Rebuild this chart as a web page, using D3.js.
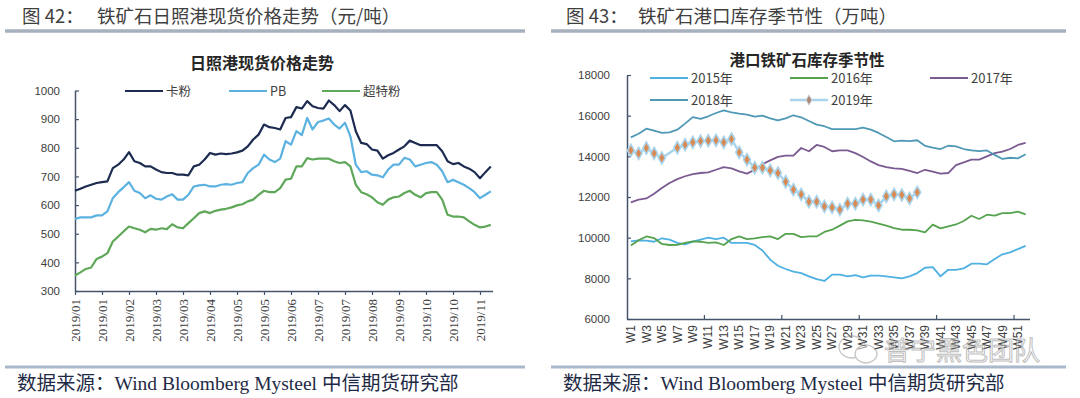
<!DOCTYPE html>
<html>
<head>
<meta charset="utf-8">
<script src="https://cdn.jsdelivr.net/npm/d3@7"></script>
<style>
  body { margin: 0; background: #fff; }
  svg { display: block; }
</style>
</head>
<body>
<svg id="chart" width="1080" height="398"></svg>
<script>
// ---- left chart data: Rizhao port spot price, one point every 3 trading days ----
const DAYS_PER_POINT = 3;
const TOTAL_DAYS = 232;
const TICK_EVERY = 15;
const dateTicks = ["2019/01","2019/01","2019/02","2019/03","2019/03","2019/04","2019/05","2019/05",
  "2019/06","2019/07","2019/07","2019/08","2019/09","2019/10","2019/10","2019/11"];

const kafen = [650,657,665,671,677,680,683,729,741,759,785,753,747,735,735,724,715,712,712,706,
  706,704,735,741,759,782,776,780,778,780,784,790,805,829,846,881,872,869,864,904,
  907,942,937,963,945,939,937,965,949,928,949,930,858,817,813,794,790,762,774,782,
  794,805,825,817,809,809,809,809,788,753,743,747,735,727,715,694,715,735];
const pb = [552,557,557,557,564,564,578,624,645,662,680,650,642,624,634,622,619,630,638,619,
  619,636,665,669,671,665,665,671,673,671,677,680,712,729,741,776,759,750,762,823,
  811,858,844,904,864,890,895,902,881,867,887,840,741,715,718,706,704,697,724,741,
  741,765,759,735,741,747,750,741,718,680,688,680,671,659,645,624,636,648];
const chaote = [354,365,377,382,412,420,432,473,490,508,525,519,514,505,517,514,519,516,533,522,
  519,537,554,572,578,572,580,584,587,592,599,603,613,619,636,650,645,645,659,689,
  692,735,735,764,759,762,762,762,753,747,750,735,671,645,638,627,610,601,619,627,
  630,642,650,636,627,642,645,645,619,566,560,560,557,543,531,522,525,531];

// ---- right chart data: port iron ore inventory by week (10k t) ----
const weeks = ["W1","W2","W3","W4","W5","W6","W7","W8","W9","W10","W11","W12","W13","W14","W15","W16",
  "W17","W18","W19","W20","W21","W22","W23","W24","W25","W26","W27","W28","W29","W30","W31","W32",
  "W33","W34","W35","W36","W37","W38","W39","W40","W41","W42","W43","W44","W45","W46","W47","W48",
  "W49","W50","W51","W52"];
const y2015 = [9820,9870,9850,9800,9970,9900,9740,9670,9800,9900,10000,9930,10000,9740,9740,9740,
  9640,9370,8920,8620,8460,8330,8260,8100,7960,7870,8180,8180,8100,8160,8050,8130,8130,8100,8050,
  8000,8100,8260,8520,8550,8100,8420,8420,8490,8720,8720,8690,8950,9180,9280,9440,9600];
const y2016 = [9620,9870,10060,9980,9690,9640,9650,9740,9820,9800,9740,9770,9640,9930,10060,9930,
  9970,10030,10060,9930,10190,10190,10030,10060,10060,10280,10390,10590,10800,10880,10850,10790,
  10690,10590,10470,10390,10390,10360,10260,10640,10460,10560,10650,10820,11080,10920,11130,11080,
  11210,11210,11280,11150];
const y2017 = [11740,11870,11930,12160,12440,12690,12880,13020,13130,13180,13210,13340,13470,13410,
  13260,13150,13340,13610,13800,13970,14030,14030,14410,14250,14560,14460,14250,14290,14290,14160,
  13970,13750,13570,13470,13410,13380,13280,13180,13340,13250,13150,13180,13570,13700,13840,13840,
  14000,14160,14230,14360,14560,14660];
const y2018 = [14930,15110,15360,15260,15150,15180,15310,15610,15930,15840,15970,16130,16260,16160,
  16100,16050,15950,16000,15870,15770,15870,16020,15920,15740,15560,15480,15340,15340,15340,15340,
  15410,15310,15150,14950,14740,14770,14750,14790,14520,14430,14360,14520,14490,14360,14290,14260,
  14290,14070,13870,13930,13900,14100];
const y2019 = [14290,14150,14410,14150,13920,null,14430,14570,14690,14750,14770,14790,14690,14850,
  14200,13840,13440,13440,13310,13180,12750,12360,12130,11770,11770,11540,11490,11380,11670,11670,
  11870,11870,11590,12030,12130,12100,11930,12230];

const SANS = "'Noto Sans CJK SC', 'Noto Sans', sans-serif";
const NUM = "'Liberation Sans', 'Noto Sans', sans-serif";
const SERIF = "'Liberation Serif', 'Noto Sans CJK SC', serif";
const AXIS = "#44546a";
const LABEL = "#404040";

const svg = d3.select("#chart");

// page frame: heading, rules and source line for each panel
function frame(x0, x1, num, numX, head, headX) {
  svg.append("text").attr("x", numX).attr("y", 23)
    .attr("font-family", SANS).attr("font-size", 18.5).attr("fill", "#3f3f3f").text(num);
  svg.append("text").attr("x", headX).attr("y", 23)
    .attr("font-family", SANS).attr("font-size", 18.5).attr("fill", "#3f3f3f").text(head);
  svg.append("line").attr("x1", x0).attr("x2", x1).attr("y1", 31).attr("y2", 31)
    .attr("stroke", "#a7b1bd").attr("stroke-width", 3.5);
  svg.append("line").attr("x1", x0).attr("x2", x1).attr("y1", 367).attr("y2", 367)
    .attr("stroke", "#a9b8ca").attr("stroke-width", 3);
  const src = svg.append("text").attr("x", x0 + 12).attr("y", 390)
    .attr("font-size", 19.5).attr("fill", "#1e2a45");
  src.append("tspan").attr("font-family", SANS).text("数据来源：");
  src.append("tspan").attr("font-family", SERIF).text("Wind Bloomberg Mysteel ");
  src.append("tspan").attr("font-family", SANS).text("中信期货研究部");
}
frame(5, 525, "图 42：", 22, "铁矿石日照港现货价格走势（元/吨）", 97);
frame(551, 1066, "图 43：", 566, "铁矿石港口库存季节性（万吨）", 638);

function styleAxis(g) {
  g.select(".domain").attr("stroke", AXIS).attr("stroke-width", 1.5);
  g.selectAll(".tick line").attr("stroke", AXIS).attr("stroke-width", 1.2);
  g.selectAll("text").attr("fill", LABEL);
}

// ================= left: 日照港现货价格走势 =================
const L = { left: 75, right: 492.6, top: 90.5, bottom: 291 };
const xL = d3.scaleLinear().domain([0, TOTAL_DAYS]).range([L.left, L.right]);
const yL = d3.scaleLinear().domain([300, 1000]).range([L.bottom, L.top]);

svg.append("text").attr("x", 262).attr("y", 69).attr("text-anchor", "middle")
  .attr("font-family", SANS).attr("font-size", 16).attr("font-weight", "bold")
  .attr("fill", "#262626").text("日照港现货价格走势");

svg.append("g").attr("transform", `translate(${L.left},0)`)
  .call(d3.axisLeft(yL).tickValues(d3.range(300, 1001, 100)).tickFormat(d3.format("d"))
    .tickSizeInner(-4).tickSizeOuter(0).tickPadding(15))
  .call(styleAxis)
  .selectAll("text").attr("font-family", NUM).attr("font-size", 11.5);

const tickDays = dateTicks.map((d, i) => i * TICK_EVERY);
svg.append("g").attr("transform", `translate(0,${L.bottom})`)
  .call(d3.axisBottom(xL).tickValues(tickDays).tickFormat((d, i) => dateTicks[i]).tickSizeInner(4).tickSizeOuter(0))
  .call(styleAxis)
  .selectAll("text")
    .attr("font-family", SERIF).attr("font-size", 13)
    .attr("transform", "rotate(-90)").attr("text-anchor", "end")
    .attr("x", -8).attr("y", 0).attr("dy", "0.35em");

const leftSeries = [
  { name: "卡粉", values: kafen, color: "#1c2b4f", lx: 125 },
  { name: "PB", values: pb, color: "#5bb2e0", lx: 229 },
  { name: "超特粉", values: chaote, color: "#5fa85a", lx: 322 }
];
const lineL = d3.line().x((d, i) => xL(i * DAYS_PER_POINT)).y(d => yL(d));
// draw in reverse so the dark series sits on top
leftSeries.slice().reverse().forEach(s => {
  svg.append("path").datum(s.values).attr("d", lineL)
    .attr("fill", "none").attr("stroke", s.color).attr("stroke-width", 2.2)
    .attr("stroke-linejoin", "round");
});
leftSeries.forEach(s => {
  svg.append("line").attr("x1", s.lx).attr("x2", s.lx + 38).attr("y1", 91).attr("y2", 91)
    .attr("stroke", s.color).attr("stroke-width", 2.2);
  svg.append("text").attr("x", s.lx + 41).attr("y", 95.5)
    .attr("font-family", SANS).attr("font-size", 12.5).attr("fill", LABEL).text(s.name);
});

// ================= right: 港口铁矿石库存季节性 =================
const R = { left: 627, right: 1029.5, top: 75, bottom: 319 };
const xR = d3.scaleBand().domain(weeks).range([R.left, R.right]);
const yR = d3.scaleLinear().domain([6000, 18000]).range([R.bottom, R.top]);
const cx = (i) => xR(weeks[i]) + xR.bandwidth() / 2;

svg.append("text").attr("x", 807).attr("y", 66).attr("text-anchor", "middle")
  .attr("font-family", SANS).attr("font-size", 15.5).attr("font-weight", "bold")
  .attr("fill", "#262626").text("港口铁矿石库存季节性");

svg.append("g").attr("transform", `translate(${R.left},0)`)
  .call(d3.axisLeft(yR).tickValues(d3.range(6000, 18001, 2000)).tickFormat(d3.format("d"))
    .tickSizeInner(-4).tickSizeOuter(0).tickPadding(17))
  .call(styleAxis)
  .selectAll("text").attr("font-family", NUM).attr("font-size", 11.5);

const xAxisR = svg.append("g").attr("transform", `translate(0,${R.bottom})`)
  .call(d3.axisBottom(xR).tickValues(weeks.filter((w, i) => i % 2 === 0)).tickSize(0).tickPadding(0))
  .call(styleAxis);
xAxisR.selectAll("text")
  .attr("font-family", NUM).attr("font-size", 12)
  .attr("transform", "rotate(-90)").attr("text-anchor", "end")
  .attr("x", -6).attr("y", 0).attr("dy", "0.35em");
// tick marks every 10 weeks, pointing into the plot
xAxisR.selectAll(".sep").data(weeks.filter((w, i) => i > 0 && i % 10 === 0)).enter()
  .append("line").attr("class", "sep")
  .attr("x1", d => xR(d)).attr("x2", d => xR(d)).attr("y1", 0).attr("y2", -4)
  .attr("stroke", AXIS).attr("stroke-width", 1.2);

const rightSeries = [
  { name: "2015年", values: y2015, color: "#4fb0e2", lx: 650, ly: 78 },
  { name: "2016年", values: y2016, color: "#55a24f", lx: 790, ly: 78 },
  { name: "2017年", values: y2017, color: "#7b5a91", lx: 930, ly: 78 },
  { name: "2018年", values: y2018, color: "#4f98b6", lx: 650, ly: 100 }
];
const lineR = d3.line().defined(d => d != null).x((d, i) => cx(i)).y(d => yR(d));
rightSeries.forEach(s => {
  svg.append("path").datum(s.values).attr("d", lineR)
    .attr("fill", "none").attr("stroke", s.color).attr("stroke-width", 1.8)
    .attr("stroke-linejoin", "round");
  svg.append("line").attr("x1", s.lx).attr("x2", s.lx + 38).attr("y1", s.ly).attr("y2", s.ly)
    .attr("stroke", s.color).attr("stroke-width", 1.8);
  svg.append("text").attr("x", s.lx + 41).attr("y", s.ly + 5)
    .attr("font-family", SANS).attr("font-size", 13).attr("fill", LABEL).text(s.name);
});

// 2019: light line with diamond markers, gap in W6 bridged
const pts2019 = y2019.map((v, i) => ({ i, v })).filter(d => d.v != null);
svg.append("path").datum(pts2019)
  .attr("d", d3.line().x(d => cx(d.i)).y(d => yR(d.v)))
  .attr("fill", "none").attr("stroke", "#a9d4ec").attr("stroke-width", 2.5);
const diamond = d3.symbol().type(d3.symbolDiamond).size(42);
svg.append("g").selectAll("path").data(pts2019).enter().append("path")
  .attr("d", diamond).attr("transform", d => `translate(${cx(d.i)},${yR(d.v)})`)
  .attr("fill", "#d88a55").attr("stroke", "#a9d4ec").attr("stroke-width", 1.6);
svg.append("line").attr("x1", 790).attr("x2", 828).attr("y1", 100).attr("y2", 100)
  .attr("stroke", "#a9d4ec").attr("stroke-width", 2.5);
svg.append("path").attr("d", d3.symbol().type(d3.symbolDiamond).size(30))
  .attr("transform", "translate(809,100)").attr("fill", "#b08a78").attr("stroke", "#c9d6de");
svg.append("text").attr("x", 831).attr("y", 105)
  .attr("font-family", SANS).attr("font-size", 13).attr("fill", LABEL).text("2019年");

// watermark
const wm = svg.append("g").attr("opacity", 0.55);
wm.append("ellipse").attr("cx", 852).attr("cy", 347).attr("rx", 13).attr("ry", 11)
  .attr("fill", "none").attr("stroke", "#9a9a9a").attr("stroke-width", 1.3);
wm.append("ellipse").attr("cx", 866).attr("cy", 354).attr("rx", 11).attr("ry", 9)
  .attr("fill", "#fff").attr("stroke", "#9a9a9a").attr("stroke-width", 1.3);
wm.append("text").attr("x", 884).attr("y", 360)
  .attr("font-family", SANS).attr("font-size", 26).attr("fill", "#fff")
  .attr("stroke", "#8a8a8a").attr("stroke-width", 1).text("普宁黑色团队");
</script>
</body>
</html>
